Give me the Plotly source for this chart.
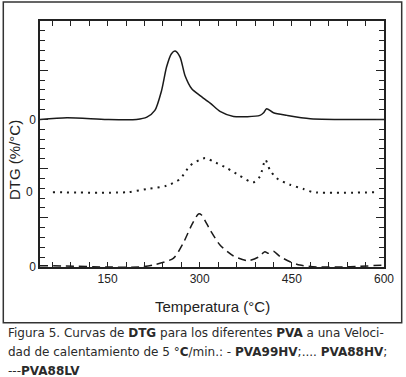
import plotly.graph_objects as go

# ---- data ----
temp_99hv = [40, 84, 149, 197, 214, 227, 238, 246, 254, 260, 268, 276, 287, 300, 317, 333, 355, 398, 404, 409, 420, 442, 480, 600]
dtg_99hv = [0, 0.17, 0, 0, 0.23, 0.91, 2.95, 5.32, 6.68, 6.94, 6.33, 4.47, 3.12, 2.44, 1.66, 0.81, 0.3, 0.41, 0.68, 1.09, 0.68, 0.41, 0.07, 0]

temp_88hv = [61, 182, 214, 246, 268, 284, 300, 309, 322, 344, 365, 387, 398, 407, 414, 425, 447, 469, 485, 585]
dtg_88hv = [0, 0, 0.33, 0.66, 1.34, 2.69, 3.3, 3.47, 3.13, 2.46, 1.68, 1.0, 1.6, 3.3, 2.29, 1.44, 0.76, 0.33, 0, 0]

temp_88lv = [40, 80, 149, 203, 224, 257, 273, 287, 298, 303, 317, 333, 355, 379, 395, 406, 412, 420, 431, 447, 463, 490, 545, 600]
dtg_88lv = [0.13, 0.1, 0, 0, 0.2, 0.88, 2.41, 4.27, 5.39, 5.28, 3.76, 2.24, 1.12, 0.64, 0.99, 1.55, 1.39, 1.6, 1.05, 0.54, 0.2, 0, 0.03, 0.2]

x_tick_vals = [150, 300, 450, 600]
x_tick_text = ["150", "300", "450", "600"]

# vertical stacking offsets of the three curves (axis units)
OFF_99HV = 15
OFF_88HV = 7.6
OFF_88LV = 0

caption_lines = [
    "Figura 5. Curvas de <b>DTG</b> para los diferentes <b>PVA</b> a una Veloci-",
    "dad de calentamiento de 5 °<b>C</b>/min.: - <b>PVA99HV</b>;.... <b>PVA88HV</b>;",
    "---<b>PVA88LV</b>",
]

W, H = 406, 377
L, R, T, B = 40, 384, 21, 267  # plot area in px


def px_x(p):
    return (p - L) / (R - L)


def px_y(p):
    return (B - p) / (B - T)


LINE = "#1a1a1a"
fig = go.Figure()
fig.add_trace(go.Scatter(x=temp_99hv, y=[v + OFF_99HV for v in dtg_99hv], mode="lines",
                         line=dict(color=LINE, width=1.5, shape="spline", smoothing=0.7),
                         name="PVA99HV"))
fig.add_trace(go.Scatter(x=temp_88hv, y=[v + OFF_88HV for v in dtg_88hv], mode="lines",
                         line=dict(color=LINE, width=2, dash="2px,5px", shape="spline", smoothing=0.7),
                         name="PVA88HV"))
fig.add_trace(go.Scatter(x=temp_88lv, y=[v + OFF_88LV for v in dtg_88lv], mode="lines",
                         line=dict(color=LINE, width=1.5, dash="8px,5px", shape="spline", smoothing=0.7),
                         name="PVA88LV"))

axis_font = dict(family="Liberation Sans, Arial, sans-serif", size=12, color="#222")

fig.update_layout(
    width=W, height=H,
    margin=dict(l=L, r=W - R, t=T, b=H - B),
    paper_bgcolor="white", plot_bgcolor="white",
    showlegend=False,
    xaxis=dict(range=[40, 600], tickvals=x_tick_vals, ticktext=x_tick_text,
               ticks="inside", ticklen=5, tickwidth=1, tickcolor="#222",
               minor=dict(dtick=30, tick0=0, ticks="inside", ticklen=5, tickwidth=1, tickcolor="#222"),
               showline=True, linecolor="#222", linewidth=1.5, mirror="allticks",
               showgrid=False, zeroline=False, tickfont=axis_font),
    yaxis=dict(range=[0, 25], tickvals=[0, 5, 10, 15, 20, 25], ticktext=["0", "", "", "0", "", ""],
               ticks="inside", ticklen=8, tickwidth=1, tickcolor="#222",
               minor=dict(dtick=1, tick0=0, ticks="inside", ticklen=5, tickwidth=1, tickcolor="#222"),
               showline=True, linecolor="#222", linewidth=1.5, mirror="allticks",
               showgrid=False, zeroline=False, tickfont=axis_font),
)

# middle "0" label
fig.add_annotation(xref="paper", yref="y", x=px_x(35), y=OFF_88HV, text="0", showarrow=False,
                   xanchor="right", yanchor="middle", font=axis_font)
# axis titles
fig.add_annotation(xref="paper", yref="paper", x=px_x(212), y=px_y(306), text="Temperatura (°C)",
                   showarrow=False, xanchor="center", yanchor="middle",
                   font=dict(family="Liberation Sans, Arial, sans-serif", size=15, color="#222"))
fig.add_annotation(xref="paper", yref="paper", x=px_x(14), y=px_y(160), text="DTG (%/°C)",
                   showarrow=False, xanchor="center", yanchor="middle", textangle=-90,
                   font=dict(family="Liberation Sans, Arial, sans-serif", size=15, color="#222"))

# outer frame
fig.add_shape(type="rect", xref="paper", yref="paper",
              x0=px_x(3.3), x1=px_x(401.7), y0=px_y(322.7), y1=px_y(2),
              line=dict(color="#333", width=1.5), fillcolor="rgba(0,0,0,0)", layer="below")

# caption
for i, (line, yc) in enumerate(zip(caption_lines, [333, 352, 371])):
    fig.add_annotation(xref="paper", yref="paper", x=px_x(6), y=px_y(yc), text=line,
                       showarrow=False, xanchor="left", yanchor="middle", align="left",
                       font=dict(family="DejaVu Sans, sans-serif", size=12, color="#2a2a2a"))

fig.write_html("out.html", config={"displayModeBar": False},
               post_script="document.body.style.margin='0';document.body.style.overflow='hidden';")
